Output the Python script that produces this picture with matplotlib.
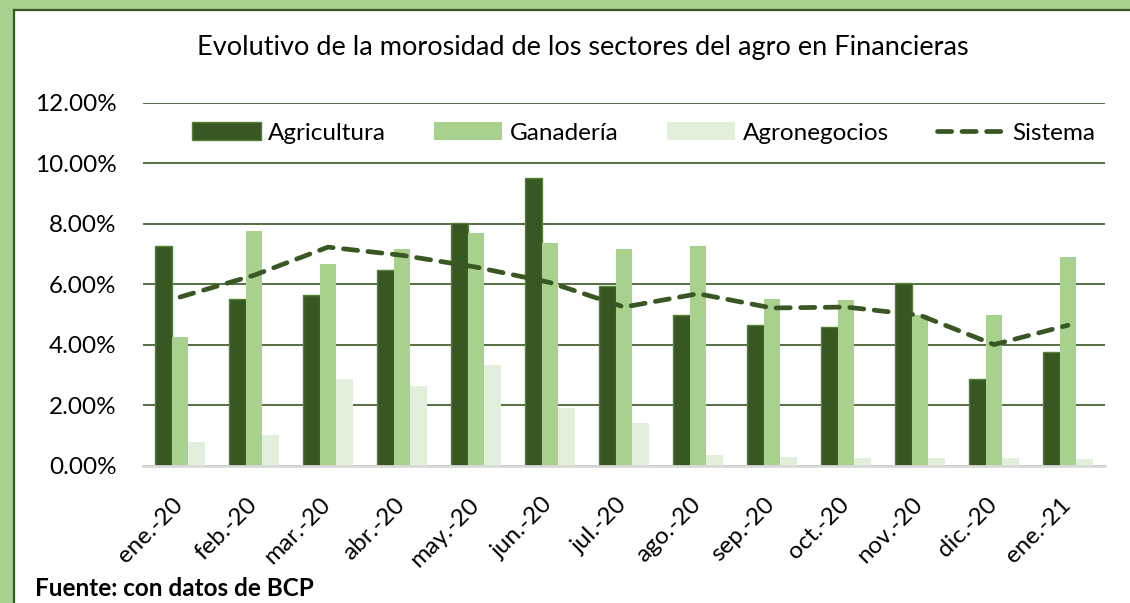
import matplotlib.pyplot as plt
from matplotlib.patches import Rectangle
from matplotlib.lines import Line2D
from matplotlib.ticker import FuncFormatter
from matplotlib.transforms import ScaledTranslation
import numpy as np

# datos (en %)
meses = ["ene.-20", "feb.-20", "mar.-20", "abr.-20", "may.-20", "jun.-20", "jul.-20",
         "ago.-20", "sep.-20", "oct.-20", "nov.-20", "dic.-20", "ene.-21"]
agricultura = [7.28, 5.53, 5.64, 6.48, 8.03, 9.52, 5.93, 4.98, 4.67, 4.59, 6.06, 2.89, 3.77]
ganaderia = [4.25, 7.77, 6.67, 7.18, 7.69, 7.38, 7.18, 7.26, 5.53, 5.48, 5.00, 5.00, 6.89]
agronegocios = [0.79, 1.01, 2.89, 2.64, 3.35, 1.90, 1.41, 0.36, 0.30, 0.27, 0.27, 0.27, 0.23]
sistema = [5.58, 6.30, 7.23, 6.96, 6.57, 6.06, 5.25, 5.69, 5.22, 5.25, 4.98, 4.01, 4.65]

oscuro = "#385723"
medio = "#A9D18E"
claro = "#E2EFDA"

plt.rcParams['font.family'] = ['Lato', 'DejaVu Sans']
fs = 17.5

W, H = 1130, 603
fig = plt.figure(figsize=(W / 100, H / 100), dpi=100)

# marco verde arriba e izquierda
fig.patches.append(Rectangle((0, 1 - 9 / H), 1, 9 / H, transform=fig.transFigure,
                             facecolor=medio, edgecolor="none", zorder=0))
fig.patches.append(Rectangle((0, 0), 13.5 / W, 1, transform=fig.transFigure,
                             facecolor=medio, edgecolor="none", zorder=0))
fig.lines.append(Line2D([13.5 / W, 1], [1 - 9.8 / H, 1 - 9.8 / H], transform=fig.transFigure,
                        color=oscuro, lw=1.6))
fig.lines.append(Line2D([14.3 / W, 14.3 / W], [0, 1 - 9.8 / H], transform=fig.transFigure,
                        color=oscuro, lw=1.6))

ax = fig.add_axes([143 / W, 1 - 466 / H, (1105 - 143) / W, (466 - 102.7) / H])

x = np.arange(len(meses))
w = 0.225
b1 = ax.bar(x - w, agricultura, w, color=oscuro, edgecolor="#548235", linewidth=1,
            label="Agricultura", zorder=3)
b2 = ax.bar(x, ganaderia, w, color=medio, label="Ganadería", zorder=3)
b3 = ax.bar(x + w, agronegocios, w, color=claro, label="Agronegocios", zorder=3)
l1, = ax.plot(x, sistema, color=oscuro, lw=3.4, dashes=(3.0, 2.2), dash_capstyle="round",
              label="Sistema", zorder=4)

ax.set_xlim(-0.5, len(meses) - 0.5)
ax.set_ylim(0, 12)
ax.set_yticks(np.arange(0, 12.1, 2))
ax.yaxis.set_major_formatter(FuncFormatter(lambda v, p: f"{v:.2f}%"))
ax.grid(axis="y", color=oscuro, lw=1.2, zorder=0)
ax.set_axisbelow(True)
for s in ["top", "right", "left"]:
    ax.spines[s].set_visible(False)
ax.spines["bottom"].set_color("#D9D9D9")
ax.spines["bottom"].set_linewidth(2)
ax.spines["bottom"].set_zorder(5)

ax.set_xticks(x)
ax.set_xticklabels(meses, rotation=45, ha="right", rotation_mode="anchor")
ax.tick_params(axis="both", length=0, labelsize=fs)
ax.tick_params(axis="x", pad=20)
ax.tick_params(axis="y", pad=19)
desplaza = ScaledTranslation(-8 / 100, 0, fig.dpi_scale_trans)
for lab in ax.get_xticklabels():
    lab.set_transform(lab.get_transform() + desplaza)

fig.text(583 / W, 1 - 48 / H, "Evolutivo de la morosidad de los sectores del agro en Financieras",
         ha="center", va="center", fontsize=19.5)
fig.text(35 / W, 1 - 589 / H, "Fuente: con datos de BCP", ha="left", va="center",
         fontsize=fs, fontweight="bold")

fig.legend([b1, b2, b3, l1], ["Agricultura", "Ganadería", "Agronegocios", "Sistema"],
           loc="center", bbox_to_anchor=(644 / W, 1 - 133 / H), ncol=4, frameon=False,
           fontsize=fs, handlelength=2.8, handleheight=0.7, columnspacing=2.0,
           handletextpad=0.3)

fig.savefig("out.png", dpi=100)
